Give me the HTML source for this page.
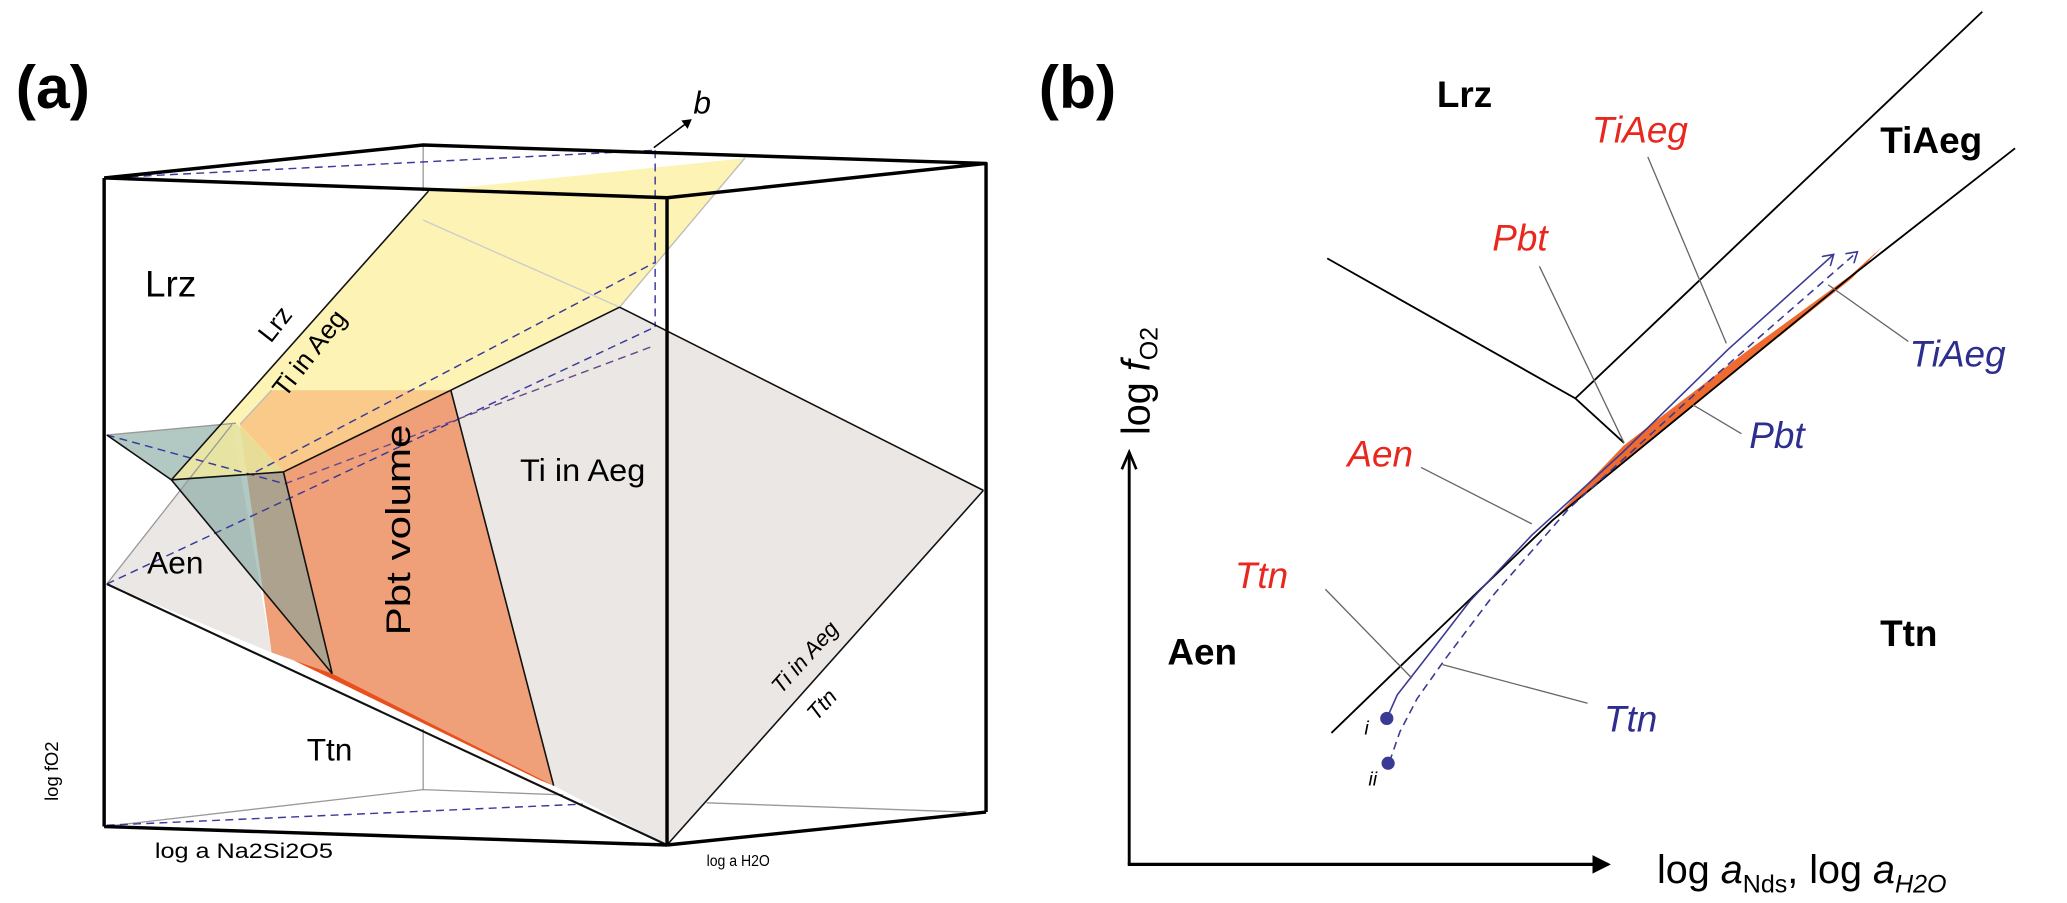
<!DOCTYPE html>
<html><head><meta charset="utf-8"><style>
html,body{margin:0;padding:0;background:#fff;}
svg{display:block;}
text{font-family:"Liberation Sans",sans-serif;}
</style></head><body>
<svg width="2067" height="903" viewBox="0 0 1568 685" preserveAspectRatio="none" xmlns="http://www.w3.org/2000/svg">
<defs>
<marker id="ah" markerWidth="8" markerHeight="8" refX="6" refY="4" orient="auto" markerUnits="userSpaceOnUse"><path d="M0,0 L7,4 L0,8 z" fill="#000"/></marker>
<marker id="ab" markerWidth="10" markerHeight="10" refX="8" refY="5" orient="auto" markerUnits="userSpaceOnUse"><path d="M0,0 L8,5 L0,10" fill="none" stroke="#3a3a95" stroke-width="1.2"/></marker>
<marker id="ax" markerWidth="16" markerHeight="16" refX="12" refY="8" orient="auto" markerUnits="userSpaceOnUse"><path d="M0,1 L14,8 L0,15 z" fill="#000"/></marker>
</defs>

<!-- Panel a -->
<text x="12" y="82" font-size="46" font-weight="bold">(a)</text>

<polygon points="342,296 470,233 746,372 506,641 420,596" fill="#ebe7e5"/>
<polygon points="81,443 176,322 206,495" fill="#ebe7e5"/>
<polygon points="182,322 215,358 342,296 420,596 223,501 206,495" fill="#f0a078"/>
<polygon points="81,330 179,321 215,358 252,511 130,364" fill="#7fa39b" fill-opacity="0.6"/>
<polygon points="325,145 565,120 470,233 342,296 215,358 130,364" fill="#fbef9c" fill-opacity="0.75"/>
<polygon points="206,296 342,296 215,358 182,322" fill="#f8c585" fill-opacity="0.9"/>
<polygon points="223,501 252,511 420,596 410,592" fill="#e8501e"/>

<g stroke="#999" stroke-width="1" fill="none">
<line x1="321" y1="110" x2="321" y2="145"/>
<line x1="321" y1="553" x2="321" y2="599"/>
<polyline points="79,627 321,599 427,603"/>
<line x1="536" y1="609" x2="733" y2="616"/>
<line x1="565" y1="120" x2="470" y2="233" stroke="#bbb"/>
<line x1="321" y1="167" x2="470" y2="233" stroke="#ccc"/>
<line x1="81" y1="330" x2="179" y2="321"/>
<line x1="81" y1="443" x2="176" y2="322"/>
<line x1="182" y1="322" x2="206" y2="296" stroke="#bbb"/>
</g>

<g stroke="#3a3a9a" stroke-width="1.1" stroke-dasharray="6,4" fill="none">
<line x1="79" y1="135" x2="497" y2="114"/>
<line x1="497" y1="114" x2="497" y2="248"/>
<line x1="81" y1="443" x2="497" y2="248"/>
<line x1="194" y1="358" x2="497" y2="199"/>
<line x1="81" y1="330" x2="216" y2="367"/>
<line x1="216" y1="367" x2="497" y2="262" stroke="#6a4a8a"/>
<line x1="81" y1="626" x2="442" y2="610"/>
</g>

<g stroke="#111" stroke-width="1.2" fill="none">
<line x1="325" y1="145" x2="130" y2="364"/>
<line x1="470" y1="233" x2="746" y2="372"/>
<line x1="342" y1="296" x2="470" y2="233"/>
<line x1="342" y1="296" x2="215" y2="358"/>
<line x1="342" y1="296" x2="420" y2="596"/>
<line x1="81" y1="443" x2="506" y2="641" stroke-width="1.6"/>
<line x1="746" y1="372" x2="506" y2="641"/>
<polyline points="81,330 130,364 252,511"/>
<line x1="215" y1="358" x2="252" y2="511"/>
<line x1="130" y1="364" x2="215" y2="358"/>
</g>

<g stroke="#000" stroke-width="2.6" fill="none" stroke-linejoin="round">
<polyline points="79,135 321,110 748,124 506,150 79,135"/>
<line x1="79" y1="135" x2="79" y2="627"/>
<line x1="79" y1="627" x2="506" y2="641"/>
<line x1="506" y1="150" x2="506" y2="641"/>
<line x1="748" y1="124" x2="748" y2="616"/>
<line x1="506" y1="641" x2="748" y2="616"/>
</g>

<line x1="496" y1="112" x2="524" y2="91" stroke="#000" stroke-width="1.2" marker-end="url(#ah)"/>
<text x="526" y="86" font-size="24" font-style="italic">b</text>

<text x="110" y="225" font-size="28">Lrz</text>
<text x="214" y="250" font-size="20" text-anchor="middle" transform="rotate(-52 214 250)">Lrz</text>
<text x="240" y="272" font-size="20" text-anchor="middle" transform="rotate(-52 240 272)">Ti in Aeg</text>
<text x="442" y="365" font-size="24" text-anchor="middle" textLength="95" lengthAdjust="spacingAndGlyphs">Ti in Aeg</text>
<text x="303" y="410" font-size="26" text-anchor="middle" transform="rotate(-90 303 402)" textLength="160" lengthAdjust="spacingAndGlyphs">Pbt volume</text>
<text x="133" y="435" font-size="24" text-anchor="middle">Aen</text>
<text x="250" y="577" font-size="24" text-anchor="middle">Ttn</text>
<text x="611" y="504" font-size="17" font-style="italic" text-anchor="middle" transform="rotate(-48 611 499)">Ti in Aeg</text>
<text x="624" y="540" font-size="17" font-style="italic" text-anchor="middle" transform="rotate(-48 624 535)">Ttn</text>
<text x="185" y="651" font-size="16" text-anchor="middle" textLength="135" lengthAdjust="spacingAndGlyphs">log a Na2Si2O5</text>
<text x="560" y="657" font-size="12" text-anchor="middle" textLength="48" lengthAdjust="spacingAndGlyphs">log a H2O</text>
<text x="44" y="585" font-size="14" text-anchor="middle" transform="rotate(-90 44 585)">log fO2</text>

<!-- Panel b -->
<text x="788" y="82" font-size="46" font-weight="bold">(b)</text>

<line x1="856.6" y1="655.7" x2="856.6" y2="343" stroke="#000" stroke-width="2.2"/>
<polyline points="851,356 856.6,343 862,356" fill="none" stroke="#000" stroke-width="2"/>
<line x1="855.5" y1="655.7" x2="1220" y2="655.7" stroke="#000" stroke-width="2.4" marker-end="url(#ax)"/>
<text x="1257" y="670" font-size="30">log <tspan font-style="italic">a</tspan><tspan font-size="19" dy="7">Nds</tspan><tspan dy="-7">, log </tspan><tspan font-style="italic">a</tspan><tspan font-size="19" font-style="italic" dy="7">H2O</tspan></text>
<text x="872" y="330" font-size="30" transform="rotate(-90 872 330)">log <tspan font-style="italic">f</tspan><tspan font-size="19" dy="6">O2</tspan></text>

<polygon points="1177.8,394.6 1231.6,338 1323,268 1403.7,209 1428,187 1405,211 1300,295 1200,377" fill="#ef6a2f"/>
<g stroke="#000" stroke-width="1.4" fill="none">
<line x1="1503.7" y1="8.9" x2="1195" y2="302.2"/>
<polyline points="1006.8,196 1195,302.2 1232,336"/>
<polyline points="1528.6,112.5 1403.7,210 1177.8,394.6 1090.7,478 1010,556"/>
</g>
<polyline points="1052,545 1060,527 1078,504 1115,456 1162,406 1230,344 1311,265 1391,193" fill="none" stroke="#3a3a95" stroke-width="1.2" stroke-linejoin="round" marker-end="url(#ab)"/>
<polyline points="1054,578 1062,555 1075,530 1097,499 1134,450 1190,386 1300,286 1409,191" fill="none" stroke="#3a3a95" stroke-width="1.2" stroke-dasharray="6,4" stroke-linejoin="round" marker-end="url(#ab)"/>
<circle cx="1052" cy="545" r="5" fill="#3a3a95"/>
<circle cx="1053" cy="579" r="5" fill="#3a3a95"/>
<text x="1035" y="557" font-size="15" font-style="italic">i</text>
<text x="1038" y="596" font-size="15" font-style="italic">ii</text>

<g stroke="#666" stroke-width="1" fill="none">
<line x1="1250" y1="119" x2="1309.6" y2="260.5"/>
<line x1="1167.8" y1="202" x2="1232" y2="336"/>
<line x1="1447.6" y1="259" x2="1386.8" y2="216"/>
<line x1="1321" y1="329" x2="1284" y2="307"/>
<line x1="1078" y1="354.6" x2="1162" y2="397.4"/>
<line x1="1005.4" y1="447" x2="1071" y2="514.4"/>
<line x1="1204.3" y1="533.5" x2="1094.3" y2="504.2"/>
</g>

<g font-size="28">
<text x="1111" y="81" font-weight="bold" text-anchor="middle">Lrz</text>
<text x="1465" y="116" font-weight="bold" text-anchor="middle">TiAeg</text>
<text x="912" y="504" font-weight="bold" text-anchor="middle">Aen</text>
<text x="1448" y="490" font-weight="bold" text-anchor="middle">Ttn</text>
<g fill="#e8281e" font-style="italic">
<text x="1244" y="108" text-anchor="middle">TiAeg</text>
<text x="1153" y="190" text-anchor="middle">Pbt</text>
<text x="1047" y="354" text-anchor="middle">Aen</text>
<text x="957" y="446" text-anchor="middle">Ttn</text>
</g>
<g fill="#2e2e8e" font-style="italic">
<text x="1485" y="278" text-anchor="middle">TiAeg</text>
<text x="1348" y="340" text-anchor="middle">Pbt</text>
<text x="1237" y="555" text-anchor="middle">Ttn</text>
</g>
</g>
</svg>
</body></html>
